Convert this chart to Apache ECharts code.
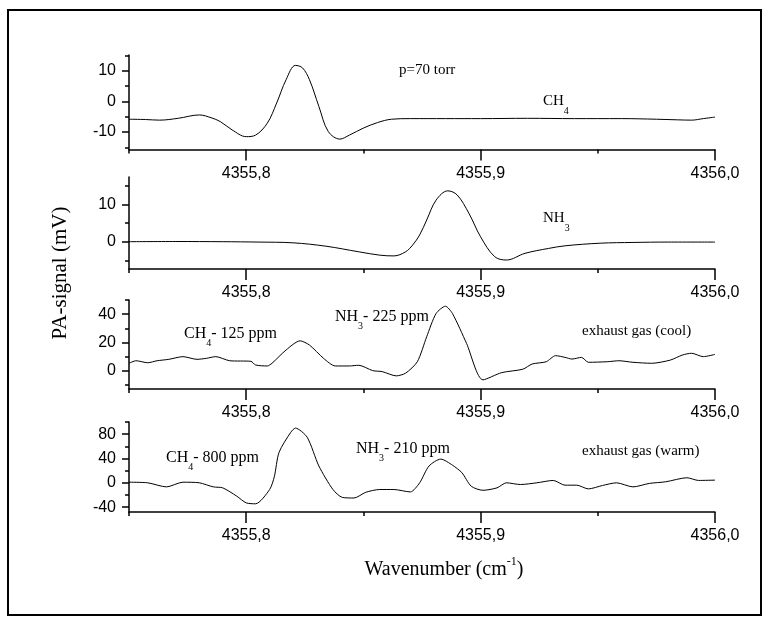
<!DOCTYPE html>
<html><head><meta charset="utf-8">
<script src="https://cdn.jsdelivr.net/npm/echarts@6/dist/echarts.min.js"></script>
<style>html,body{margin:0;padding:0;background:#fff}#c{width:769px;height:623px}</style>
</head><body><div id="c"></div>
<script>
// ---- x axis (wavenumber, cm^-1) ----
const xMin = 4355.75, xMax = 4356.0;
const xMajorTicks = [4355.8, 4355.9, 4356.0];
const xMinorTicks = [4355.75, 4355.85, 4355.95];

// ---- panel 1: CH4, p = 70 torr ----
const wnCH4 = [4355.750,4355.757,4355.763,4355.771,4355.780,4355.785,4355.789,4355.794,4355.800,4355.804,4355.809,4355.813,4355.817,4355.821,4355.824,4355.827,4355.831,4355.835,4355.840,4355.844,4355.850,4355.856,4355.862,4355.870,4355.885,4355.900,4355.920,4355.940,4355.960,4355.975,4355.984,4355.990,4355.995,4356.000];
const sigCH4 = [-5.8,-5.9,-6.1,-5.5,-4.4,-5.3,-6.6,-9.3,-11.5,-11.0,-7.1,-0.5,7.1,11.8,11.0,7.1,-1.6,-9.8,-12.3,-11.0,-8.7,-6.9,-5.8,-5.6,-5.6,-5.6,-5.5,-5.6,-5.6,-5.8,-6.0,-6.1,-5.6,-5.1];

// ---- panel 2: NH3 ----
const wnNH3 = [4355.750,4355.770,4355.790,4355.805,4355.820,4355.834,4355.848,4355.857,4355.863,4355.868,4355.871,4355.874,4355.877,4355.881,4355.886,4355.890,4355.895,4355.900,4355.906,4355.911,4355.919,4355.929,4355.936,4355.951,4355.965,4355.980,4356.000];
const sigNH3 = [0,0.05,0,-0.1,-0.3,-1.2,-2.7,-3.6,-3.8,-2.7,-0.9,1.8,5.8,11.1,13.6,12.5,7.6,1.3,-4.0,-4.9,-3.1,-1.8,-1.1,-0.4,-0.2,-0.1,-0.1];

// ---- panel 3: exhaust gas (cool) ----
const wnCool = [4355.750,4355.753,4355.758,4355.762,4355.767,4355.773,4355.779,4355.783,4355.787,4355.793,4355.802,4355.804,4355.809,4355.811,4355.817,4355.823,4355.827,4355.833,4355.838,4355.844,4355.848,4355.854,4355.858,4355.864,4355.868,4355.873,4355.877,4355.881,4355.885,4355.888,4355.894,4355.901,4355.909,4355.918,4355.922,4355.928,4355.932,4355.936,4355.939,4355.943,4355.946,4355.954,4355.959,4355.965,4355.973,4355.981,4355.986,4355.990,4355.995,4356.000];
const sigCool = [5.2,7,5.6,7,8,9.9,8,8.7,9.9,7,6.6,4,3.3,5.2,14.6,21.1,18.1,8.7,3.3,3.3,3.8,0,-0.7,-3.7,-1.8,6.3,24,40.4,45.6,40.4,19.3,-6.5,-1.4,1,4.7,6.3,10.6,9.4,8.2,9.4,5.9,6.3,7,5.9,5.2,7.5,11,12.3,9.9,11.5];

// ---- panel 4: exhaust gas (warm) ----
const wnWarm = [4355.750,4355.758,4355.766,4355.773,4355.780,4355.786,4355.790,4355.796,4355.800,4355.804,4355.810,4355.812,4355.814,4355.819,4355.821,4355.826,4355.831,4355.837,4355.841,4355.846,4355.851,4355.857,4355.863,4355.870,4355.874,4355.878,4355.883,4355.888,4355.892,4355.896,4355.901,4355.907,4355.911,4355.917,4355.924,4355.931,4355.936,4355.941,4355.946,4355.952,4355.958,4355.965,4355.972,4355.979,4355.988,4355.993,4356.000];
const sigWarm = [1,0,-6.7,1,0,-6.7,-8.3,-22,-33,-34.5,-11,10,50,83,90,75,27.7,-11,-24,-25,-15.6,-11,-11,-15,0,27.7,39,29,16.7,-5.6,-12.3,-8.3,0,-2.8,0,3.9,-3.9,-3.9,-10,-4.4,0,-6.7,-1,1.7,8.3,3.9,4.4];

// ---- y axes ----
const yRanges = [[-15.7, 15.2], [-7.3, 17.3], [-13, 50], [-48, 100]];
const yMajor = [[-10, 0, 10], [0, 10], [0, 20, 40], [-40, 0, 40, 80]];
const yMinor = [[-15, -5, 5, 15], [-5, 5, 15], [-10, 10, 30, 50], [-20, 20, 60, 100]];

const series = [[wnCH4, sigCH4], [wnNH3, sigNH3], [wnCool, sigCool], [wnWarm, sigWarm]];

// layout
const gridTops = [55, 177, 300, 422];
const gridHeights = [94.5, 92, 89, 90];

const black = '#000';
const sans = 'Liberation Sans, Arial, sans-serif';
const serif = 'Liberation Serif, Times New Roman, serif';

const grids = [], xAxes = [], yAxes = [], seriesOpts = [];
for (let i = 0; i < 4; i++) {
  grids.push({left: 129, right: 54, top: gridTops[i], height: gridHeights[i]});
  // minor x ticks + axis line
  xAxes.push({gridIndex: i, type: 'value', min: xMin, max: xMax, position: 'bottom',
    axisLine: {onZero: false, lineStyle: {color: black, width: 1.5}},
    axisTick: {customValues: xMinorTicks, length: 4, lineStyle: {color: black, width: 1.5}},
    axisLabel: {show: false}, splitLine: {show: false}});
  // major x ticks + labels
  xAxes.push({gridIndex: i, type: 'value', min: xMin, max: xMax, position: 'bottom',
    axisLine: {show: false, onZero: false},
    axisTick: {customValues: xMajorTicks, length: 11, lineStyle: {color: black, width: 1.5}},
    axisLabel: {customValues: xMajorTicks, margin: 16, color: black, fontFamily: sans, fontSize: 16,
      formatter: v => v.toFixed(1).replace('.', ',')},
    splitLine: {show: false}});
  yAxes.push({gridIndex: i, type: 'value', min: yRanges[i][0], max: yRanges[i][1], position: 'left',
    axisLine: {show: true, onZero: false, lineStyle: {color: black, width: 1.5}},
    axisTick: {customValues: yMajor[i], length: 7, lineStyle: {color: black, width: 1.5}},
    axisLabel: {customValues: yMajor[i], margin: 13, color: black, fontFamily: sans, fontSize: 16},
    splitLine: {show: false}});
  yAxes.push({gridIndex: i, type: 'value', min: yRanges[i][0], max: yRanges[i][1], position: 'left',
    axisLine: {show: false, onZero: false},
    axisTick: {customValues: yMinor[i], length: 4, lineStyle: {color: black, width: 1.5}},
    axisLabel: {show: false}, splitLine: {show: false}});
  const [wn, sig] = series[i];
  seriesOpts.push({type: 'line', xAxisIndex: 2 * i, yAxisIndex: 2 * i,
    data: wn.map((w, k) => [w, sig[k]]), showSymbol: false, smooth: i < 2 ? 0.35 : 0.25,
    lineStyle: {color: black, width: 1}, silent: true});
}

const rich = {
  n: {fontFamily: serif, fontSize: 16, lineHeight: 18, verticalAlign: 'top', color: black},
  m: {fontFamily: serif, fontSize: 15, lineHeight: 18, verticalAlign: 'top', color: black},
  s: {fontFamily: serif, fontSize: 10, lineHeight: 10, padding: [12, 0, 0, 0], verticalAlign: 'top', color: black}
};
function label(x, y, text) {
  return {type: 'text', x: x, y: y, silent: true,
    style: {text: text, rich: rich, align: 'left', verticalAlign: 'top', fill: black}};
}

const graphics = [
  {type: 'rect', shape: {x: 8, y: 10, width: 753, height: 605}, style: {fill: 'none', stroke: black, lineWidth: 2}, silent: true},
  label(399, 63, '{m|p=70 torr}'),
  label(543, 94, '{m|CH}{s|4}'),
  label(543, 211, '{m|NH}{s|3}'),
  label(184, 326, '{n|CH}{s|4}{n|- 125 ppm}'),
  label(335, 309, '{n|NH}{s|3}{n|- 225 ppm}'),
  label(582, 324, '{m|exhaust gas (cool)}'),
  label(166, 450, '{n|CH}{s|4}{n|- 800 ppm}'),
  label(356, 441, '{n|NH}{s|3}{n|- 210 ppm}'),
  label(582, 444, '{m|exhaust gas (warm)}'),
  {type: 'text', x: 444, y: 567, silent: true,
    style: {text: '{t|Wavenumber (cm}{p|-1}{t|)}', align: 'center', verticalAlign: 'middle', fill: black,
      rich: {t: {fontFamily: serif, fontSize: 20, lineHeight: 22, padding: [5, 0, 0, 0], color: black},
             p: {fontFamily: serif, fontSize: 12, lineHeight: 12, verticalAlign: 'top', color: black}}}},
  {type: 'text', x: 60, y: 273, rotation: Math.PI / 2, silent: true,
    style: {text: 'PA-signal (mV)', align: 'center', verticalAlign: 'middle', fill: black,
      font: '21px ' + serif}}
];

const chart = echarts.init(document.getElementById('c'), null, {renderer: 'canvas'});
chart.setOption({
  animation: false,
  backgroundColor: '#fff',
  grid: grids, xAxis: xAxes, yAxis: yAxes, series: seriesOpts,
  graphic: graphics
});
</script>
</body></html>
